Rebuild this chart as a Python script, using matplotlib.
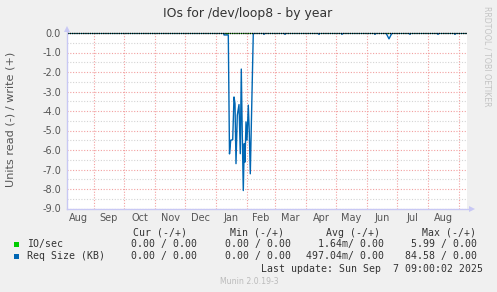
import matplotlib
matplotlib.use("Agg")
import matplotlib.pyplot as plt
import matplotlib.dates as mdates
import numpy as np

# ---------------- data ----------------
title = "IOs for /dev/loop8 - by year"
ylabel = "Units read (-) / write (+)"

# Req Size (KB), read side (plotted negative)
req_dates = ["2024-08-05", "2025-01-09 00:00", "2025-01-09 00:01", "2025-01-13 07:00",
             "2025-01-14 12:00", "2025-01-15 17:00", "2025-01-17 17:00", "2025-01-19 00:00",
             "2025-01-20 00:00", "2025-01-21 00:00", "2025-01-22 07:00", "2025-01-24 00:00",
             "2025-01-25 07:00", "2025-01-26 07:00", "2025-01-27 07:00", "2025-01-28 07:00",
             "2025-01-29 07:00", "2025-01-30 00:00", "2025-01-31 00:00", "2025-02-01 00:00",
             "2025-02-02 07:00", "2025-02-03 07:00", "2025-02-04 07:00", "2025-02-07 07:00",
             "2025-02-17 12:00", "2025-02-18 00:00", "2025-02-18 12:00",
             "2025-03-10 12:00", "2025-03-11 00:00", "2025-03-11 12:00",
             "2025-04-13 12:00", "2025-04-14 00:00", "2025-04-14 12:00",
             "2025-05-06 12:00", "2025-05-07 00:00", "2025-05-07 12:00",
             "2025-06-08 12:00", "2025-06-09 00:00", "2025-06-09 12:00",
             "2025-06-20 00:00", "2025-06-23 00:00", "2025-06-26 00:00",
             "2025-07-13 12:00", "2025-07-14 00:00", "2025-07-14 12:00",
             "2025-08-10 12:00", "2025-08-11 00:00", "2025-08-11 12:00",
             "2025-08-27 12:00", "2025-08-28 00:00", "2025-08-28 12:00",
             "2025-09-09"]
req_values = [0.0, 0.0, -0.1, -0.1,
              -6.2, -5.5, -5.47, -3.28,
              -3.62, -6.7, -4.22, -3.67,
              -6.19, -1.85, -5.25, -8.08,
              -5.67, -6.62, -4.56, -5.5,
              -3.7, -5.08, -7.22, 0.0,
              0.0, -0.07, 0.0,
              0.0, -0.07, 0.0,
              0.0, -0.07, 0.0,
              0.0, -0.07, 0.0,
              0.0, -0.07, 0.0,
              0.0, -0.3, 0.0,
              0.0, -0.07, 0.0,
              0.0, -0.07, 0.0,
              0.0, -0.07, 0.0,
              0.0]

# IO/sec, read side
io_dates = ["2024-08-05", "2025-01-11", "2025-01-12", "2025-01-13", "2025-09-09"]
io_values = [0.0, 0.0, -0.05, 0.0, 0.0]

month_labels = ["Aug", "Sep", "Oct", "Nov", "Dec", "Jan", "Feb", "Mar",
                "Apr", "May", "Jun", "Jul", "Aug"]
month_starts = ["2024-08-01", "2024-09-01", "2024-10-01", "2024-11-01", "2024-12-01",
                "2025-01-01", "2025-02-01", "2025-03-01", "2025-04-01", "2025-05-01",
                "2025-06-01", "2025-07-01", "2025-08-01", "2025-09-01"]
y_ticks = [0.0, -1.0, -2.0, -3.0, -4.0, -5.0, -6.0, -7.0, -8.0, -9.0]

legend_header = ["Cur (-/+)", "Min (-/+)", "Avg (-/+)", "Max (-/+)"]
legend_rows = [
    ("IO/sec", "#00CC00", ["0.00 / 0.00", "0.00 / 0.00", "1.64m/ 0.00", "5.99 / 0.00"]),
    ("Req Size (KB)", "#0066B3", ["0.00 / 0.00", "0.00 / 0.00", "497.04m/ 0.00", "84.58 / 0.00"]),
]
last_update = "Last update: Sun Sep  7 09:00:02 2025"
footer = "Munin 2.0.19-3"
side_text = "RRDTOOL / TOBI OETIKER"

# ---------------- figure ----------------
W, H = 497, 292
fig = plt.figure(figsize=(W / 100, H / 100), dpi=100)
fig.patch.set_facecolor("#F0F0F0")

def fx(x):
    return x / W

def fy(y):
    return 1 - y / H

L, R, T, B = 67, 467, 33, 208.5
ax = fig.add_axes([fx(L), fy(B), (R - L) / W, (B - T) / H])
ax.set_facecolor("white")

xmin = mdates.date2num(np.datetime64("2024-08-05"))
xmax = mdates.date2num(np.datetime64("2025-09-09"))
ax.set_xlim(xmin, xmax)
ax.set_ylim(-9, 0)

# grid
for yv in np.arange(-8.5, 0, 1.0):
    ax.axhline(yv, color="#D4D4D4", lw=0.8, ls=(0, (1, 1.5)), zorder=1)
for yv in y_ticks[1:]:
    ax.axhline(yv, color="#F2A0A0", lw=0.8, ls=(0, (1, 1.5)), zorder=1)
for d in month_starts:
    xv = mdates.date2num(np.datetime64(d))
    if xmin < xv < xmax:
        ax.axvline(xv, color="#F2A0A0", lw=0.8, ls=(0, (1, 1.5)), zorder=1)

# data
io_x = mdates.date2num(np.array(io_dates, dtype="datetime64[m]"))
req_x = mdates.date2num(np.array(req_dates, dtype="datetime64[m]"))
ax.plot(io_x, io_values, color="#00CC00", lw=1.0, zorder=3)
ax.plot(req_x, req_values, color="#0066B3", lw=1.0, zorder=4)
ax.plot([xmin, xmax], [0, 0], color="black", lw=1.0, ls=(0, (1, 0.6)), zorder=5, clip_on=False)

# ticks
ax.set_yticks(y_ticks)
ax.set_yticklabels([f"{v:.1f}" for v in y_ticks])
mids = []
for a, b in zip(month_starts[:-1], month_starts[1:]):
    na = mdates.date2num(np.datetime64(a))
    nb = mdates.date2num(np.datetime64(b))
    mids.append((na + nb) / 2)
ax.set_xticks(mids)
ax.set_xticklabels(month_labels)
ax.tick_params(axis="both", length=0, labelsize=7.0, colors="#555555")
ax.tick_params(axis="y", pad=4.3)
ax.tick_params(axis="x", pad=3.0)
for s in ax.spines.values():
    s.set_visible(False)

# axis lines with arrows
axis_col = "#C8C8F4"
ax.plot([0, 0], [0, 1.02], transform=ax.transAxes, color=axis_col, lw=1.0, clip_on=False, zorder=6)
ax.plot([0], [1.025], transform=ax.transAxes, marker="^", ms=4.5, mew=0, color=axis_col, clip_on=False, zorder=6)
ax.plot([0, 1.01], [0, 0], transform=ax.transAxes, color=axis_col, lw=1.0, clip_on=False, zorder=6)
ax.plot([1.0135], [0], transform=ax.transAxes, marker=">", ms=4.5, mew=0, color=axis_col, clip_on=False, zorder=6)

# titles
fig.text(fx(248), fy(14), title, ha="center", va="center", fontsize=8.9, color="#333333")
fig.text(fx(11), fy(119.5), ylabel, ha="center", va="center", rotation=90, fontsize=8.1, color="#555555")
fig.text(fx(487.4), fy(56), side_text, ha="center", va="center", rotation=-90, fontsize=5.7, color="#C4C4C4")

# legend
mono = "DejaVu Sans Mono"
fs = 7.1
hdr_right = [187.3, 284, 380, 475.7]
col_right = [197.3, 291, 384, 476.7]
for txt, xr in zip(legend_header, hdr_right):
    fig.text(fx(xr), fy(232.7), txt, ha="right", va="center", family=mono, fontsize=fs, color="#333333")
row_y = [244.3, 256.3]
for (name, col, vals), yy in zip(legend_rows, row_y):
    fig.patches.append(plt.Rectangle((fx(14), fy(yy + 2.6)), 5.3 / W, 5.3 / H,
                                     transform=fig.transFigure, facecolor=col, edgecolor="none"))
    fig.text(fx(26.7), fy(yy), name, ha="left", va="center", family=mono, fontsize=fs, color="#333333")
    for v, xr in zip(vals, col_right):
        fig.text(fx(xr), fy(yy), v, ha="right", va="center", family=mono, fontsize=fs, color="#333333")
fig.text(fx(483.3), fy(268.7), last_update, ha="right", va="center", family=mono, fontsize=fs, color="#333333")
fig.text(fx(249), fy(281), footer, ha="center", va="center", fontsize=5.6, color="#BBBBBB")

fig.savefig("out.png", dpi=100, facecolor=fig.get_facecolor())
